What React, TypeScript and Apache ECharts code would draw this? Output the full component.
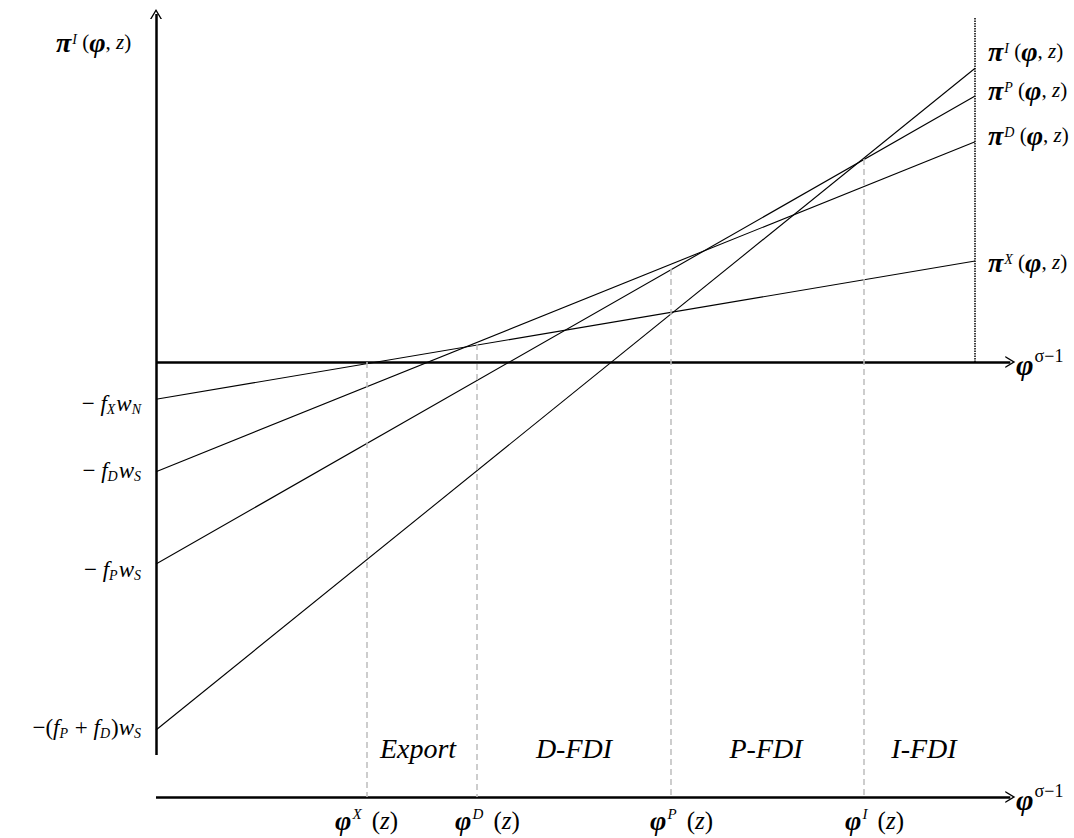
import React, { useEffect, useRef } from "react";
import * as echarts from "echarts";

// ---- data (schematic units: x = φ^(σ-1), y = profit) ----
const lineKeys = ["X", "D", "P", "I"];
const lineStart = [-3.73, -10.97, -20.2, -36.8]; // value at φ = 0
const lineEnd = [10.1, 22.03, 26.6, 29.37]; // value at right boundary
const xRight = 100;

const thresholdKeys = ["X", "D", "P", "I"];
const thresholdX = [25.76, 39.19, 62.88, 86.45];
const thresholdTop = [0, 1.8, 9.3, 20.3];

const regionNames = ["Export", "D-FDI", "P-FDI", "I-FDI"];

const yAxisBottom = -39.3;
const yAxisTop = 34.8;
const xArrowTip = 104.3;
const lowerAxisY = -43.5;
const dottedTop = 34.4;

const FONT = "Liberation Serif";
const ARROW = "path://M6,0L12,10L10.5,10L6,2.6L1.5,10L0,10Z";

const makeRich = (base: number, greek: number, small: number, supDrop: number, supGap: number) => ({
  g: { fontFamily: FONT, fontStyle: "italic", fontWeight: "bold", fontSize: greek, lineHeight: greek + 4, color: "#000" },
  n: { fontFamily: FONT, fontSize: base, lineHeight: greek + 4, color: "#000" },
  i: { fontFamily: FONT, fontStyle: "italic", fontSize: base, lineHeight: greek + 4, color: "#000" },
  sup: { fontFamily: FONT, fontStyle: "italic", fontSize: small, verticalAlign: "top", padding: [supDrop, supGap, 0, 1], color: "#000" },
  supn: { fontFamily: FONT, fontSize: small, verticalAlign: "top", padding: [supDrop, 0, 0, 1], color: "#000" },
  sub: { fontFamily: FONT, fontStyle: "italic", fontSize: small, verticalAlign: "bottom", padding: [0, 1, 0, 0], color: "#000" },
  r: { fontFamily: FONT, fontStyle: "italic", fontSize: base, lineHeight: base + 4, color: "#000" },
});

const richRight = makeRich(21, 28, 14, 6, 0);
const richLeft = makeRich(23, 23, 14, 0, 0);
const richBottom = makeRich(25, 28, 15, 2, 4);
const richAxis = makeRich(20, 30, 18, 0, 0);
const richRegion = makeRich(28, 28, 14, 0, 0);

const piLabel = (k: string) => `{g|π}{sup|${k}}{n| (}{g|φ}{n|, }{i|z}{n|)}`;
const phiLabel = (k: string) => `{g|φ}{sup|${k}}{n| (}{i|z}{n|)}`;
const leftLabels = [
  "{n|− }{i|f}{sub|X}{i|w}{sub|N}",
  "{n|− }{i|f}{sub|D}{i|w}{sub|S}",
  "{n|− }{i|f}{sub|P}{i|w}{sub|S}",
  "{n|−(}{i|f}{sub|P}{n| + }{i|f}{sub|D}{n|)}{i|w}{sub|S}",
];
const leftLabelY = [403, 470, 569, 727];
const rightLabelKeys = ["I", "P", "D", "X"];
const rightLabelY = [51, 90, 135, 262];
const phiLabelLeft = [335, 455, 650, 845];
const regionCenterX = [418, 574, 766, 924];

const txt = (text: string, rich: any, x: number, y: number, align = "left", vAlign = "middle") => ({
  type: "text",
  silent: true,
  style: { text, x, y, align, verticalAlign: vAlign, rich, fill: "#000" },
});

export default function App() {
  const ref = useRef<HTMLDivElement>(null);
  useEffect(() => {
    if (!ref.current) return;
    const chart = echarts.init(ref.current, undefined, { renderer: "svg" });

    const profitSeries = lineKeys.map((k, i) => ({
      type: "line",
      name: "pi" + k,
      data: [
        [0, lineStart[i]],
        [xRight, lineEnd[i]],
      ],
      symbol: "none",
      silent: true,
      lineStyle: { color: "#000", width: 1.1 },
    }));

    const axisSeries = {
      type: "line",
      data: [],
      silent: true,
      markLine: {
        silent: true,
        symbol: ["none", ARROW],
        symbolSize: [12, 10],
        label: { show: false },
        emphasis: { disabled: true },
        lineStyle: { color: "#000", width: 2.5, type: "solid" },
        data: [
          [{ coord: [0, yAxisBottom] }, { coord: [0, yAxisTop] }],
          [{ coord: [0, 0] }, { coord: [xArrowTip, 0] }],
          [{ coord: [0, lowerAxisY] }, { coord: [xArrowTip, lowerAxisY] }],
        ],
      },
    };

    const dottedSeries = {
      type: "line",
      data: [],
      silent: true,
      markLine: {
        silent: true,
        symbol: ["none", "none"],
        label: { show: false },
        emphasis: { disabled: true },
        lineStyle: { color: "#000", width: 1.5, type: [1.5, 1] },
        data: [[{ coord: [xRight, 0] }, { coord: [xRight, dottedTop] }]],
      },
    };

    const dashedSeries = {
      type: "line",
      data: [],
      silent: true,
      markLine: {
        silent: true,
        symbol: ["none", "none"],
        label: { show: false },
        emphasis: { disabled: true },
        lineStyle: { color: "#bdbdbd", width: 1.5, type: [6, 4] },
        data: thresholdKeys.map((_, i) => [
          { coord: [thresholdX[i], thresholdTop[i]] },
          { coord: [thresholdX[i], lowerAxisY] },
        ]),
      },
    };

    const graphics: any[] = [];
    graphics.push(txt(piLabel("I"), richRight, 56, 42));
    rightLabelKeys.forEach((k, i) => graphics.push(txt(piLabel(k), richRight, 988, rightLabelY[i])));
    leftLabels.forEach((t, i) => graphics.push(txt(t, richLeft, 142, leftLabelY[i], "right")));
    thresholdKeys.forEach((k, i) => graphics.push(txt(phiLabel(k), richBottom, phiLabelLeft[i], 820)));
    regionNames.forEach((r, i) => graphics.push(txt(`{r|${r}}`, richRegion, regionCenterX[i], 748, "center")));
    graphics.push(txt("{g|φ}{supn|σ−1}", richAxis, 1016, 364));
    graphics.push(txt("{g|φ}{supn|σ−1}", richAxis, 1016, 799));

    chart.setOption({
      animation: false,
      grid: { left: 156, right: 17, top: 10, bottom: 26 },
      xAxis: { type: "value", min: 0, max: 110, show: false },
      yAxis: { type: "value", min: -45, max: 35.2, show: false },
      series: [...profitSeries, axisSeries, dottedSeries, dashedSeries],
      graphic: graphics,
    });
    return () => chart.dispose();
  }, []);
  return (
    <div
      ref={ref}
      style={{ position: "fixed", left: 0, top: 0, width: 1074, height: 838, background: "#fff" }}
    />
  );
}
